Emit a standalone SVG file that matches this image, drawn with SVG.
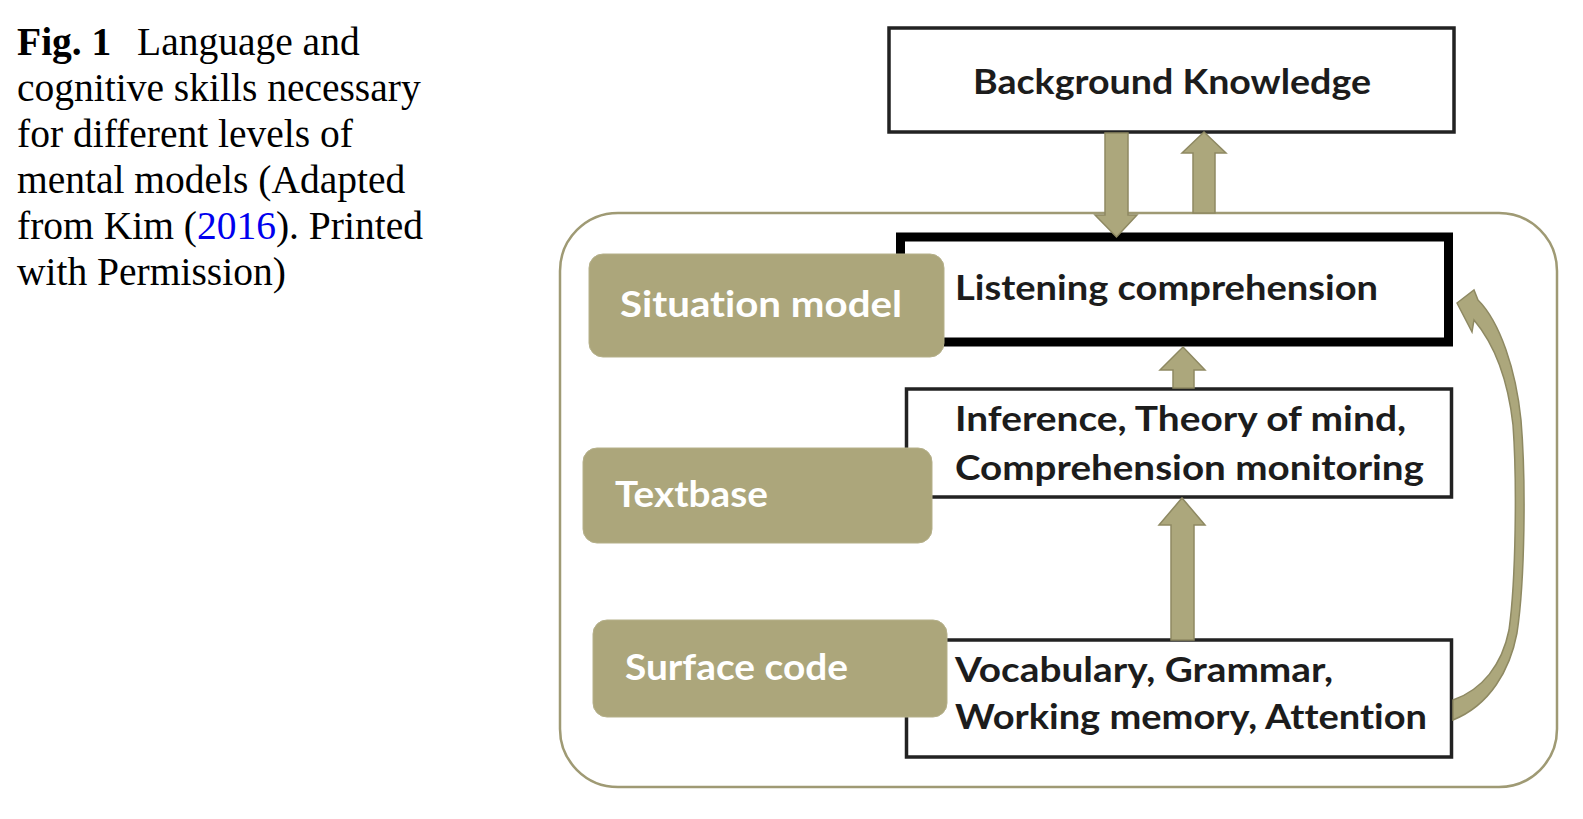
<svg xmlns="http://www.w3.org/2000/svg" width="1583" height="819" viewBox="0 0 1583 819">
<style>
.cap{font-family:"Liberation Serif","Times New Roman",serif;font-size:39.5px;fill:#000}
.lbl{font-family:Lato,"Open Sans","Liberation Sans",sans-serif;font-weight:700;font-size:35px;fill:#1c1c1c;font-variant-ligatures:none}
.tagt{font-family:Lato,"Open Sans","Liberation Sans",sans-serif;font-weight:700;font-size:36px;fill:#ffffff;font-variant-ligatures:none}
.tag{fill:#aca67b;stroke:#b5b08a;stroke-width:1}
.box{fill:#ffffff;stroke:#222;stroke-width:3.5}
.arrow{fill:#aca77c;stroke:#8e8962;stroke-width:1.5;stroke-linejoin:miter}
</style>
<rect width="1583" height="819" fill="#ffffff"/>
<g id="caption">
<text class="cap" x="17" y="55"><tspan font-weight="700">Fig. 1</tspan><tspan x="137">Language and</tspan></text>
<text class="cap" x="17" y="101">cognitive skills necessary</text>
<text class="cap" x="17" y="147">for different levels of</text>
<text class="cap" x="17" y="193">mental models (Adapted</text>
<text class="cap" x="17" y="239">from Kim (<tspan fill="#0000ee">2016</tspan>). Printed</text>
<text class="cap" x="17" y="285">with Permission)</text>
</g>
<g id="frame">
<rect x="560" y="213" width="997" height="574" rx="58" ry="58" fill="none" stroke="#9f9a74" stroke-width="2.5"/>
</g>
<g id="background-knowledge">
<rect class="box" x="889" y="28" width="565" height="104" stroke-width="3"/>
<text class="lbl" x="1172" y="94" text-anchor="middle" textLength="398" lengthAdjust="spacingAndGlyphs">Background Knowledge</text>
</g>
<g id="listening">
<rect x="900.5" y="237" width="548" height="105" fill="#ffffff" stroke="#000" stroke-width="9"/>
<text class="lbl" x="955" y="300" textLength="423" lengthAdjust="spacingAndGlyphs">Listening comprehension</text>
</g>
<g id="inference">
<rect class="box" x="906.5" y="389" width="545" height="108"/>
<text class="lbl" x="955" y="431" textLength="451" lengthAdjust="spacingAndGlyphs">Inference, Theory of mind,</text>
<text class="lbl" x="955" y="480" textLength="469" lengthAdjust="spacingAndGlyphs">Comprehension monitoring</text>
</g>
<g id="vocabulary">
<rect class="box" x="906.5" y="640" width="545" height="117"/>
<text class="lbl" x="955" y="682" textLength="378" lengthAdjust="spacingAndGlyphs">Vocabulary, Grammar,</text>
<text class="lbl" x="955" y="729" textLength="472" lengthAdjust="spacingAndGlyphs">Working memory, Attention</text>
</g>
<g id="situation-model">
<rect class="tag" x="589" y="254" width="355" height="103" rx="14" ry="14"/>
<text class="tagt" x="620" y="317" textLength="282" lengthAdjust="spacingAndGlyphs">Situation model</text>
</g>
<g id="textbase">
<rect class="tag" x="583" y="448" width="349" height="95" rx="14" ry="14"/>
<text class="tagt" x="615" y="507" textLength="153" lengthAdjust="spacingAndGlyphs">Textbase</text>
</g>
<g id="surface-code">
<rect class="tag" x="593" y="620" width="354" height="97" rx="14" ry="14"/>
<text class="tagt" x="625" y="680" textLength="223" lengthAdjust="spacingAndGlyphs">Surface code</text>
</g>
<g id="connectors">
<polygon class="arrow" points="1105,133 1128,133 1128,215 1137,215 1116.5,237 1095,215 1105,215"/>
<polygon class="arrow" points="1193,213 1215,213 1215,153 1226,153 1204,132 1182,153 1193,153"/>
<polygon class="arrow" points="1173,388 1194,388 1194,370 1205,370 1183,347 1160,370 1173,370"/>
<polygon class="arrow" points="1171,640 1194,640 1194,525 1205,525 1182,498 1159,525 1171,525"/>
<path class="arrow" d="M 1457,303 L 1474,290 L 1478,300 C 1500,322 1516,370 1521,420 C 1526,480 1525,580 1517,633 C 1510,670 1490,705 1453,720 L 1453,700 C 1482,690 1502,665 1509,630 C 1516,580 1517,480 1513,425 C 1508,380 1495,345 1474,320 L 1472,332 Z"/>
</g>
</svg>
